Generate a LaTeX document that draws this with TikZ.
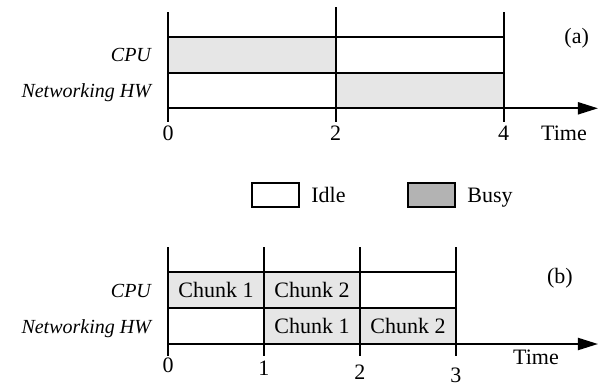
\documentclass[tikz,border=0pt]{standalone}
\usepackage{fontspec}
\setmainfont{Liberation Serif}
\usepackage{tikz}
\usetikzlibrary{arrows.meta,positioning}
\definecolor{busylight}{HTML}{E6E6E6}
\definecolor{busydark}{HTML}{B3B3B3}
\tikzset{
  ln/.style={line width=1pt, draw=black},
  ar/.style={ln, -{Triangle[length=10pt,width=6pt]}},
  busy/.style={fill=busylight},
  rowlbl/.style={font=\itshape, anchor=base east},
  key/.style={draw, line width=1pt, minimum width=23.5pt, minimum height=11.7pt, inner sep=0pt},
  keytxt/.style={text depth=0pt},
}

\begin{document}
\begin{tikzpicture}[x=0.5pt, y=-0.5pt, font=\fontsize{11}{13}\selectfont]
    \useasboundingbox (0,0) rectangle (602,386);
    % (a) one after the other
    \fill[busy] (168,36.7) rectangle (335.7,72.7);
    \fill[busy] (335.7,72.7) rectangle (503.7,108.3);
    \draw[ln] (168,36.7) -- (503.7,36.7) (168,72.7) -- (503.7,72.7);
    \draw[ar] (168,108.3) -- (598,108.3);
    \foreach \x/\top in {168/12,335.7/7.3,503.7/12}{ \draw[ln] (\x,\top) -- (\x,121.7); }
    \node[rowlbl] (cpuA) at (158,61.8) {CPU};
    \node[rowlbl] (netA) at (158,97.6) {Networking HW};
    \foreach \x/\t in {168/0,335.7/2,503.7/4}{ \node (ta\t) at (\x,133.3) {\t}; }
    \node (timeA) at (564,133.3) {Time};
    \node (capA) at (576.7,38) {(a)};
    % legend
    \node[key, fill=white] (idleKey) at (275.8,195) {};
    \node[keytxt, right=2pt of idleKey] (idleTxt) {Idle};
    \node[key, fill=busydark] (busyKey) at (431.9,195) {};
    \node[keytxt, right=2pt of busyKey] (busyTxt) {Busy};
    % (b) pipelined chunks
    \fill[busy] (168,272.3) rectangle (360,308.3);
    \fill[busy] (264,308.3) rectangle (456,344);
    \draw[ln] (168,272.3) -- (456,272.3) (168,308.3) -- (456,308.3);
    \draw[ar] (168,344) -- (598,344);
    \foreach \x in {168,264,360,456}{ \draw[ln] (\x,247) -- (\x,356); }
    \node (cpuOne) at (216,290.3) {Chunk 1};
    \node (cpuTwo) at (312,290.3) {Chunk 2};
    \node (netOne) at (312,326.2) {Chunk 1};
    \node (netTwo) at (408,326.2) {Chunk 2};
    \node[rowlbl] (cpuB) at (158,297.4) {CPU};
    \node[rowlbl] (netB) at (158,333.3) {Networking HW};
    \foreach \x/\y/\t in {168/365/0,264/368/1,360/372/2,456/375.5/3}{ \node (tb\t) at (\x,\y) {\t}; }
    \node (timeB) at (536,357) {Time};
    \node (capB) at (560,278) {(b)};
\end{tikzpicture}
\end{document}
